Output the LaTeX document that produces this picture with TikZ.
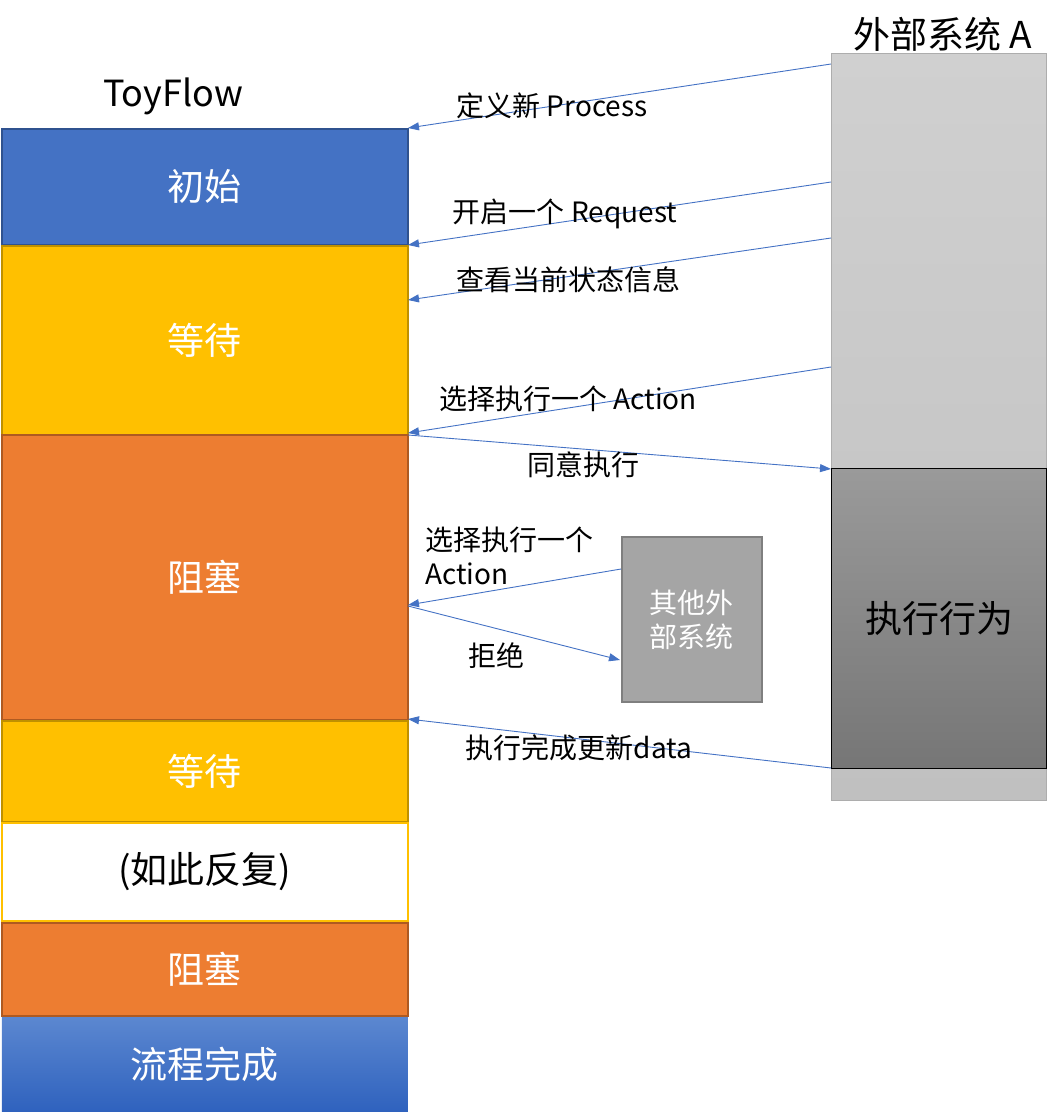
\documentclass[tikz,border=0pt]{standalone}
\usepackage{fontspec}
\setmainfont{Noto Sans CJK SC}
\usetikzlibrary{arrows.meta}
\definecolor{cblue}{HTML}{4472C4}
\definecolor{cblueB}{HTML}{2F528F}
\definecolor{cyel}{HTML}{FFC000}
\definecolor{cyelB}{HTML}{BF9000}
\definecolor{corg}{HTML}{ED7D31}
\definecolor{corgB}{HTML}{AE5A21}
\definecolor{cgrayA}{HTML}{D0D0D0}
\definecolor{cgrayAb}{HTML}{C0C0C0}
\definecolor{cgrayB}{HTML}{ADADAD}
\definecolor{cexT}{HTML}{9A9A9A}
\definecolor{cexB}{HTML}{767676}
\definecolor{coth}{HTML}{A5A5A5}
\definecolor{cothB}{HTML}{7F7F7F}
\definecolor{cfinT}{HTML}{5B87D0}
\definecolor{cfinB}{HTML}{2F62BE}
\definecolor{carr}{HTML}{4472C4}
\begin{document}
\begin{tikzpicture}[x=1pt,y=-1pt,
  blk/.style={draw, line width=1.5pt, minimum width=406pt, anchor=north west, inner sep=0pt, text=white, font=\fontsize{37}{40}\selectfont},
  lbl/.style={font=\fontsize{28}{34}\selectfont, text=black, inner sep=0pt},
  conn/.style={draw=carr, line width=0.9pt, -{Triangle[length=11pt,width=8pt]}}
]
\useasboundingbox (0,0) rectangle (1062,1112);
% left column
\node[blk, fill=cblue, draw=cblueB, minimum height=116pt] (init) at (1,128) {初始};
\node[blk, fill=cyel, draw=cyelB, minimum height=189pt] (wait1) at (1,245) {等待};
\node[blk, fill=corg, draw=corgB, minimum height=285pt] (block1) at (1,434) {阻塞};
\node[blk, fill=cyel, draw=cyelB, minimum height=101pt] (wait2) at (1,720) {等待};
\node[blk, fill=white, draw=cyel, text=black, minimum height=98pt] (repeat) at (1,822) {(如此反复)};
\node[blk, fill=corg, draw=corgB, minimum height=93pt] (block2) at (1,922) {阻塞};
\node[blk, draw=none, top color=cfinT, bottom color=cfinB, minimum height=94pt] (fin) at (1,1017) {流程完成};
\node[font=\fontsize{36}{40}\selectfont, inner sep=0pt] (toyflow) at (173,96) {ToyFlow};
% external system A
\node[draw=cgrayB, line width=1pt, top color=cgrayA, bottom color=cgrayAb, minimum width=215pt, minimum height=747pt, anchor=north west, inner sep=0pt] (extA) at (831,53) {};
\node[font=\fontsize{37}{40}\selectfont, inner sep=0pt] (extAlbl) at (943,34) {外部系统 A};
\node[draw=black, line width=1pt, top color=cexT, bottom color=cexB, minimum width=215pt, minimum height=300pt, anchor=north west, inner sep=0pt, font=\fontsize{37}{40}\selectfont] (exec) at (831,468) {执行行为};
% other systems
\node[draw=cothB, line width=1.8pt, fill=coth, minimum width=140pt, minimum height=165pt, anchor=north west, inner sep=0pt, text=white, align=center, font=\fontsize{28}{34}\selectfont] (other) at (621,536) {其他外\\部系统};
% connector endpoints
\coordinate (s1) at (831,64);   \coordinate (e1) at (408,128);
\coordinate (s2) at (831,182);  \coordinate (e2) at (408,245);
\coordinate (s3) at (831,238);  \coordinate (e3) at (408,300);
\coordinate (s4) at (831,367);  \coordinate (e4) at (408,433);
\coordinate (s5) at (408,435);  \coordinate (e5) at (831,469);
\coordinate (s6) at (621,569);  \coordinate (e6) at (408,605);
\coordinate (s7) at (408,606);  \coordinate (e7) at (620,660);
\coordinate (s8) at (831,768);  \coordinate (e8) at (408,719);
\path[conn] (s1) -- (e1);
\path[conn] (s2) -- (e2);
\path[conn] (s3) -- (e3);
\path[conn] (s4) -- (e4);
\path[conn] (s5) -- (e5);
\path[conn] (s6) -- (e6);
\path[conn] (s7) -- (e7);
\path[conn] (s8) -- (e8);
% labels
\node[lbl] (l1) at (552,106) {定义新 Process};
\node[lbl] (l2) at (565,214) {开启一个 Request};
\node[lbl] (l3) at (568,280) {查看当前状态信息};
\node[lbl] (l4) at (568,399) {选择执行一个 Action};
\node[lbl] (l5) at (583,465) {同意执行};
\node[lbl, anchor=west, align=left] (l6) at (425,556) {选择执行一个\\Action};
\node[lbl] (l7) at (496,656) {拒绝};
\node[lbl] (l8) at (579,748) {执行完成更新data};
\end{tikzpicture}
\end{document}
